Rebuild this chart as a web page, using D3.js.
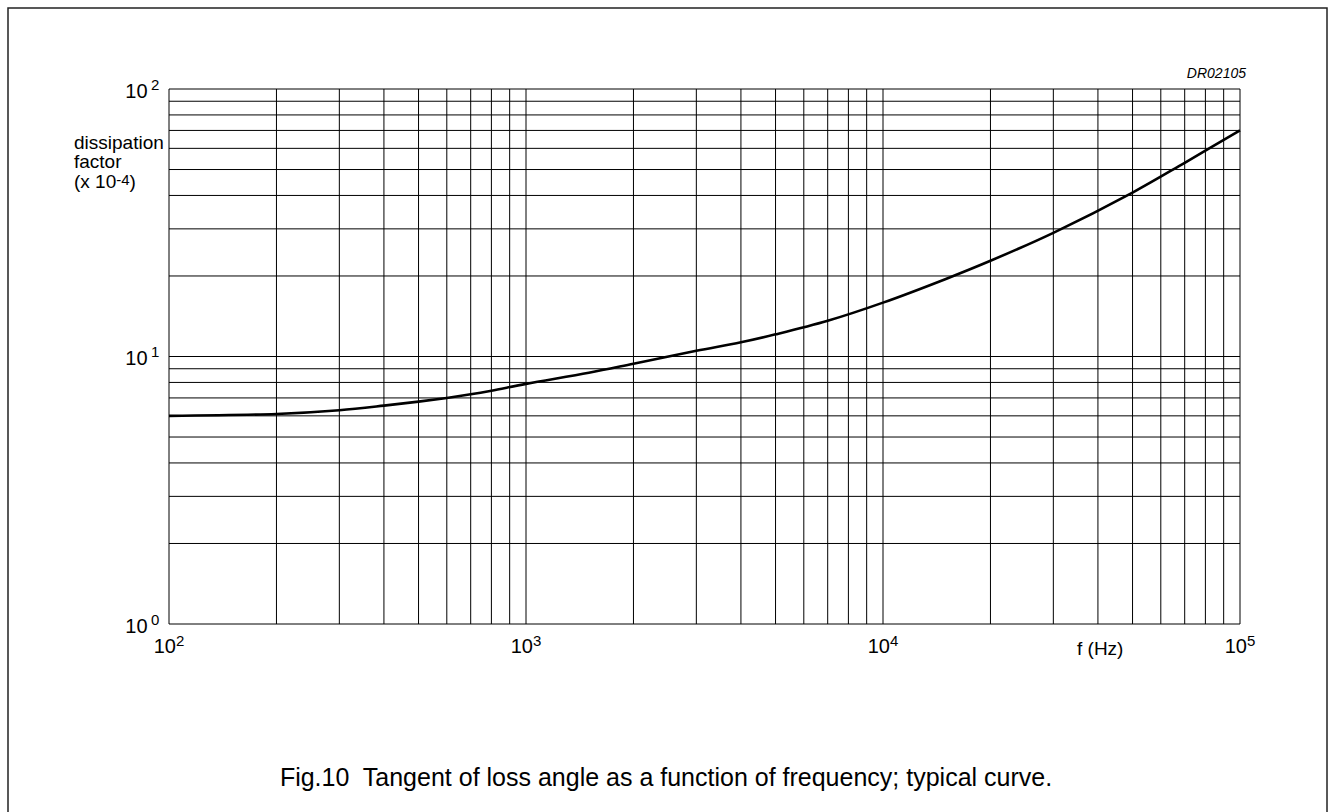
<!DOCTYPE html>
<html><head><meta charset="utf-8">
<script src="https://cdn.jsdelivr.net/npm/d3@7"></script>
<style>
html,body{margin:0;padding:0;background:#fff;}
svg{display:block;}
text{font-family:"Liberation Sans",Arial,sans-serif;fill:#000;white-space:pre;}
</style></head>
<body>
<svg id="c" width="1330" height="812"></svg>
<script>
// Data
const freqHz = [100, 200, 300, 400, 500, 600, 700, 800, 1000, 1500, 2000, 3000, 4000, 5000, 7000, 10000, 15000, 20000, 30000, 50000, 70000, 100000];
const dissipation = [6.0, 6.1, 6.3, 6.55, 6.78, 7.0, 7.22, 7.45, 7.9, 8.7, 9.4, 10.5, 11.3, 12.1, 13.6, 15.9, 19.5, 22.8, 29, 41, 53, 70];
const xTickExp = [2, 3, 4, 5];
const yTickExp = [0, 1, 2];
const xLabel = "f (Hz)";
const yLabelLines = ["dissipation", "factor"];
const code = "DR02105";
const caption = "Fig.10  Tangent of loss angle as a function of frequency; typical curve.";

const svg = d3.select("#c");
const L = 169, R = 1240, T = 89, B = 624;
const x = d3.scaleLog().domain([100, 100000]).range([L, R]);
const y = d3.scaleLog().domain([1, 100]).range([B, T]);

// outer frame
svg.append("rect").attr("x", 8).attr("y", 8).attr("width", 1319).attr("height", 830)
  .attr("fill", "none").attr("stroke", "#222").attr("stroke-width", 1.5);

// grid
const xGrid = [];
for (let d = 100; d < 100000; d *= 10) for (let m = 1; m <= 10; m++) xGrid.push(d * m);
const yGrid = [];
for (let d = 1; d < 100; d *= 10) for (let m = 1; m <= 10; m++) yGrid.push(d * m);
const g = svg.append("g").attr("stroke", "#000").attr("stroke-width", 1).attr("fill", "none");
g.selectAll("line.v").data(Array.from(new Set(xGrid))).enter().append("line")
  .attr("x1", d => x(d)).attr("x2", d => x(d)).attr("y1", T).attr("y2", B);
g.selectAll("line.h").data(Array.from(new Set(yGrid))).enter().append("line")
  .attr("x1", L).attr("x2", R).attr("y1", d => y(d)).attr("y2", d => y(d));

// curve
const pts = freqHz.map((f, i) => [x(f), y(dissipation[i])]);
svg.append("path").attr("d", d3.line().curve(d3.curveCatmullRom.alpha(0.5))(pts))
  .attr("fill", "none").attr("stroke", "#000").attr("stroke-width", 2.6)
  .attr("stroke-linejoin", "round");

// y tick labels
yTickExp.forEach(e => {
  const yy = y(Math.pow(10, e));
  svg.append("text").attr("x", 147.6).attr("y", yy + 8.5).attr("text-anchor", "end")
    .attr("font-size", 20).text("10");
  svg.append("text").attr("x", 151).attr("y", yy + 0.5).attr("font-size", 15).text(String(e));
});

// x tick labels
xTickExp.forEach(e => {
  const t = svg.append("text").attr("x", x(Math.pow(10, e))).attr("y", 653)
    .attr("text-anchor", "middle").attr("font-size", 20);
  t.append("tspan").text("10");
  t.append("tspan").attr("font-size", 15).attr("dy", -7.5).text(String(e));
});

// axis titles
svg.append("text").attr("x", 1077).attr("y", 655).attr("font-size", 19).text(xLabel);
yLabelLines.forEach((s, i) => {
  svg.append("text").attr("x", 74).attr("y", 149 + i * 19.3).attr("font-size", 19).text(s);
});
const t3 = svg.append("text").attr("x", 74).attr("y", 149 + 2 * 19.3).attr("font-size", 19);
t3.append("tspan").text("(x 10");
t3.append("tspan").attr("font-size", 15).attr("dy", -3).text("-4");
t3.append("tspan").attr("dy", 3).text(")");

// code
svg.append("text").attr("x", 1246).attr("y", 78).attr("text-anchor", "end")
  .attr("font-size", 14).attr("font-style", "italic").text(code);

// caption
svg.append("text").attr("x", 666).attr("y", 786).attr("text-anchor", "middle")
  .attr("font-size", 25).attr("xml:space", "preserve").text(caption);
</script>
</body></html>
